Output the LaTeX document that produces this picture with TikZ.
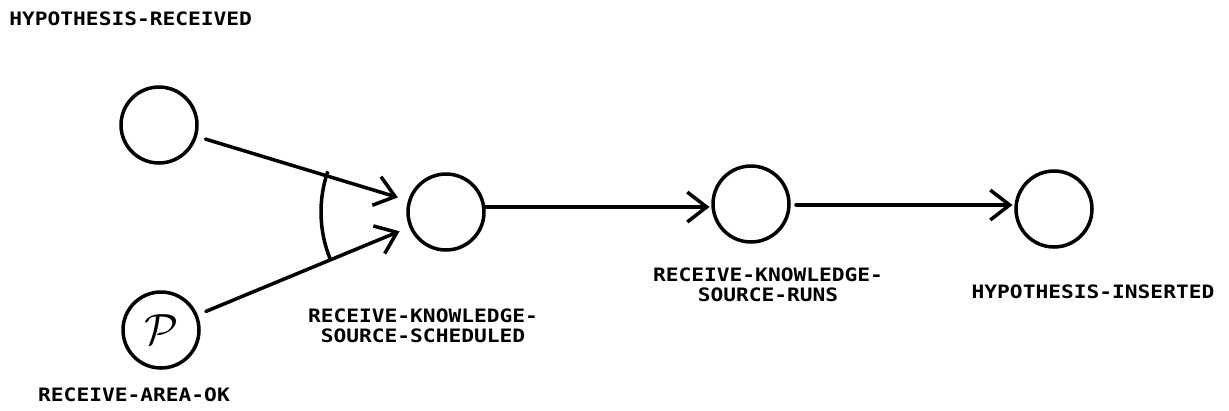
\documentclass[tikz,border=0pt]{standalone}
\usepackage{amsmath}
\usepackage{fontspec}
\usepackage{tikz}
\usetikzlibrary{arrows.meta, positioning}
\newfontfamily\plotter[FakeStretch=1.15]{DejaVu Sans Mono Bold}
\tikzset{
    estado/.style={draw=black, circle, line width=2pt, minimum size=1.52cm, inner sep=0pt},
    rotulo/.style={font=\plotter\fontsize{10.5}{11.4}\selectfont, align=center, inner sep=0pt},
    seta/.style={line width=2pt, line cap=round, line join=round,
        -{Straight Barb[length=11pt, width=17pt, line width=2pt]}}
}

\begin{document}
\begin{tikzpicture}[x=0.02cm, y=-0.02cm]
    \useasboundingbox (0,0) rectangle (1229,410);
    % estados
    \node[estado] (recebida) at (159,125) {};
    \node[estado] (areaok)   at (161,330) {\fontsize{24}{26}\selectfont$\mathcal{P}$};
    \node[estado] (agendada) at (446,212) {};
    \node[estado] (executa)  at (751,204) {};
    \node[estado] (inserida) at (1054,209) {};
    % rotulos
    \node[rotulo, anchor=west] (trecebida) at (9,19) {HYPOTHESIS-RECEIVED};
    \node[rotulo] (tareaok)   at (134,395) {RECEIVE-AREA-OK};
    \node[rotulo] (tagendada) at (423,326) {RECEIVE-KNOWLEDGE-\\SOURCE-SCHEDULED};
    \node[rotulo] (texecuta)  at (768,285) {RECEIVE-KNOWLEDGE-\\SOURCE-RUNS};
    \node[rotulo] (tinserida) at (1093,292) {HYPOTHESIS-INSERTED};
    % arcos
    \draw[seta, shorten <=5pt, shorten >=6pt] (recebida) -- (agendada);
    \draw[seta, shorten <=5pt, shorten >=6pt] (areaok) -- (agendada);
    \draw[seta, shorten >=1pt] (agendada.east |- 0,207) -- (executa.west |- 0,207);
    \draw[seta, shorten <=3pt, shorten >=1pt] (executa.east |- 0,205) -- (inserida.west |- 0,205);
    % juncao das entradas
    \draw[line width=2pt] ([shift={(158:125)}]agendada.center) arc[start angle=158, end angle=199, radius=125];
\end{tikzpicture}
\end{document}
